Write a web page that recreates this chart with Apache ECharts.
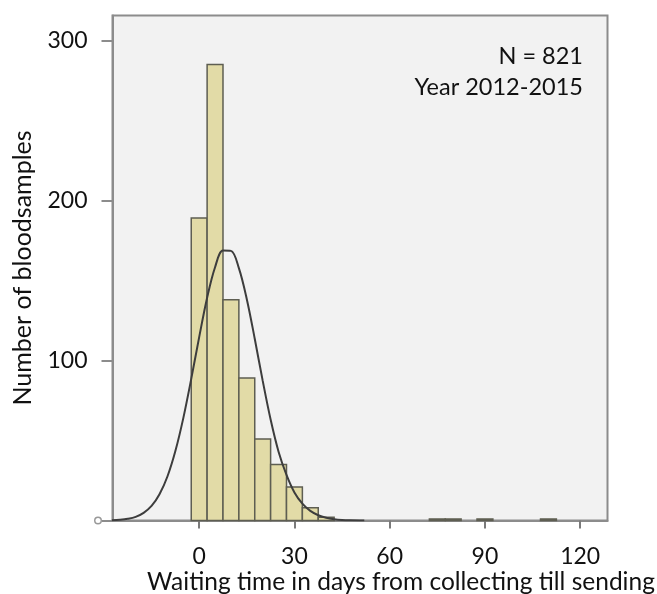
<!DOCTYPE html>
<html>
<head>
<meta charset="utf-8">
<script src="https://cdn.jsdelivr.net/npm/echarts@6/dist/echarts.min.js"></script>
<style>
  html, body { margin: 0; padding: 0; background: #ffffff; }
  #chart { width: 657px; height: 594px; }
</style>
</head>
<body>
<div id="chart"></div>
<script>
// Histogram of waiting days (bin centres and counts, 5-day bins)
const binCenters = [0, 5, 10, 15, 20, 25, 30, 35, 40, 75, 80, 90, 110];
const binCounts  = [189, 285, 138, 89, 51, 35, 21, 8, 2, 1, 1, 1, 1];
const BIN_WIDTH = 5;

// Fitted normal curve, sampled along the day axis
const curveDays   = [-27.5, -25, -22.5, -20, -17.5, -15, -12.5, -10, -7.5, -5, -2.5, 0, 2.5, 5, 7.5, 10, 12.5, 15, 17.5, 20, 22.5, 25, 27.5, 30, 32.5, 35, 37.5, 40, 42.5, 45, 47.5, 52];
const curveCounts = [0.2, 0.5, 1.1, 2.3, 4.8, 9.1, 16.4, 27.5, 43.4, 64, 88.5, 114.6, 139.2, 158.3, 168.7, 168.5, 157.7, 138.3, 113.6, 87.4, 63.1, 43, 28.5, 17.5, 10.5, 6, 3.3, 1.7, 0.8, 0.3, 0.1, 0];

// Axis ticks
const xTicks = [0, 30, 60, 90, 120];
const yTicks = [0, 100, 200, 300];

const FONT = 'Lato';
const TEXT = '#111111';
const AXIS_GREY = '#8c8c8c';

const histData = binCenters.map((c, i) => [c - BIN_WIDTH / 2, c + BIN_WIDTH / 2, binCounts[i]]);
const curveData = curveDays.map((d, i) => [d, curveCounts[i]]);

const chart = echarts.init(document.getElementById('chart'), null, { renderer: 'canvas' });

chart.setOption({
  animation: false,
  backgroundColor: '#ffffff',
  title: [
    {
      text: 'N = 821',
      right: 69, top: 39,
      textStyle: { fontFamily: FONT, fontSize: 23.5, fontWeight: 'normal', color: TEXT }
    },
    {
      text: 'Year 2012-2015',
      right: 69, top: 70,
      textStyle: { fontFamily: FONT, fontSize: 23.5, fontWeight: 'normal', color: TEXT }
    }
  ],
  grid: {
    left: 112.5, right: 49.5, top: 15.5, bottom: 73.5,
    containLabel: false,
    outerBoundsMode: 'none',
    show: true,
    backgroundColor: '#f2f2f2',
    borderColor: AXIS_GREY,
    borderWidth: 2
  },
  xAxis: {
    type: 'value',
    min: -27.3, max: 128.6,
    name: 'Waiting time in days from collecting till sending',
    nameLocation: 'middle',
    nameGap: 49,
    nameMoveOverlap: false,
    nameTextStyle: { fontFamily: FONT, fontSize: 24.5, color: TEXT, padding: [0, 0, 0, 82] },
    axisLine: { show: true, onZero: false, lineStyle: { color: AXIS_GREY, width: 2 } },
    axisTick: { show: true, customValues: xTicks, length: 8, lineStyle: { color: '#7a7a7a', width: 2 } },
    axisLabel: { customValues: xTicks, margin: 25, fontFamily: FONT, fontSize: 23, color: TEXT },
    splitLine: { show: false }
  },
  yAxis: {
    type: 'value',
    min: 0, max: 315.6,
    name: 'Number of bloodsamples',
    nameLocation: 'middle',
    nameGap: 77,
    nameMoveOverlap: false,
    nameTextStyle: { fontFamily: FONT, fontSize: 25, color: TEXT },
    axisLine: { show: true, onZero: false, lineStyle: { color: AXIS_GREY, width: 2 } },
    axisTick: { show: true, customValues: yTicks, length: 11, lineStyle: { color: AXIS_GREY, width: 2 } },
    axisLabel: {
      customValues: yTicks,
      margin: 12,
      fontFamily: FONT, fontSize: 23, color: TEXT,
      formatter: v => v === 0 ? '{o|}' : '{n|' + v + '}',
      rich: {
        n: { fontFamily: FONT, fontSize: 23, color: TEXT, padding: [0, 13, 0, 0] },
        o: { width: 5, height: 5, lineHeight: 5, borderColor: '#999999', borderWidth: 1.5, borderRadius: 4, backgroundColor: '#ffffff' }
      }
    },
    splitLine: { show: false }
  },
  series: [
    {
      type: 'custom',
      name: 'Bloodsamples',
      data: histData,
      encode: { x: [0, 1], y: 2 },
      renderItem: (params, api) => {
        const p0 = api.coord([api.value(0), api.value(2)]);
        const p1 = api.coord([api.value(1), 0]);
        return {
          type: 'rect',
          shape: { x: p0[0], y: p0[1], width: p1[0] - p0[0], height: p1[1] - p0[1] },
          style: { fill: '#e2dba7', stroke: '#5e5e52', lineWidth: 1.5 }
        };
      },
      z: 2
    },
    {
      type: 'line',
      name: 'Normal',
      data: curveData,
      smooth: 0.35,
      symbol: 'none',
      lineStyle: { color: '#3d3d3d', width: 2 },
      z: 3
    }
  ]
});
</script>
</body>
</html>
